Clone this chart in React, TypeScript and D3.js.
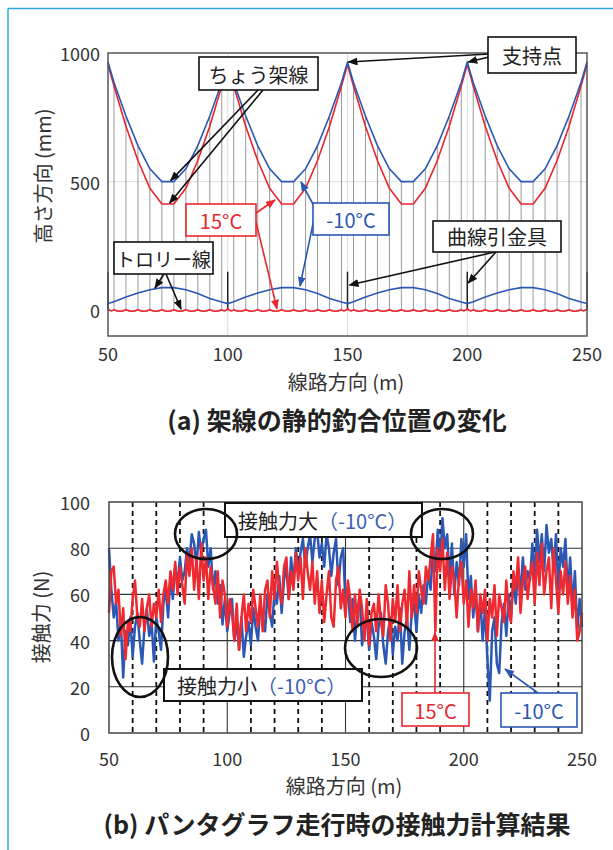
import React from "react";
import * as d3 from "d3";

const FONT = "'Noto Sans CJK JP', 'Noto Sans', sans-serif";
const RED = "#e8262d";
const BLUE = "#2a58b4";
const TXT = "#333";

// ---------- (a) static equilibrium of the catenary ----------
const TOP_X_TICKS = [50, 100, 150, 200, 250];
const TOP_Y_TICKS = [0, 500, 1000];
const TOP_GRID_X = [100, 150, 200];
const TOP_GRID_Y = [0, 500];
const SUPPORT_X = [50, 100, 150, 200, 250];
const STEADY_ARM_TOP = 150;

const WIRE_X = [
  50, 52.5, 57.5, 62.5, 67.5, 72.5, 77.5, 82.5, 87.5, 92.5, 97.5,
  100, 102.5, 107.5, 112.5, 117.5, 122.5, 127.5, 132.5, 137.5, 142.5, 147.5,
  150, 152.5, 157.5, 162.5, 167.5, 172.5, 177.5, 182.5, 187.5, 192.5, 197.5,
  200, 202.5, 207.5, 212.5, 217.5, 222.5, 227.5, 232.5, 237.5, 242.5, 247.5,
  250,
];
// messenger wire (ちょう架線) height, mm
const MESSENGER_M10 = [
  965, 885, 755, 640, 550, 500, 500, 550, 640, 755, 885,
  965, 885, 755, 640, 550, 500, 500, 550, 640, 755, 885,
  965, 885, 755, 640, 550, 500, 500, 550, 640, 755, 885,
  965, 885, 755, 640, 550, 500, 500, 550, 640, 755, 885,
  965,
];
const MESSENGER_15 = [
  955, 872, 715, 582, 474, 413, 413, 474, 582, 715, 872,
  955, 872, 715, 582, 474, 413, 413, 474, 582, 715, 872,
  955, 872, 715, 582, 474, 413, 413, 474, 582, 715, 872,
  955, 872, 715, 582, 474, 413, 413, 474, 582, 715, 872,
  955,
];
// contact wire (トロリー線) height, mm
const TROLLEY_M10 = [
  26, 33, 52, 67, 80, 88, 88, 80, 65, 46, 32,
  26, 33, 52, 67, 80, 88, 88, 80, 65, 46, 32,
  26, 33, 52, 67, 80, 88, 88, 80, 65, 46, 32,
  26, 33, 52, 67, 80, 88, 88, 80, 65, 46, 32,
  26,
];
const TROLLEY_15 = [
  6, 2, 2, 2, 2, 2, 2, 2, 2, 2, 2,
  6, 2, 2, 2, 2, 2, 2, 2, 2, 2, 2,
  6, 2, 2, 2, 2, 2, 2, 2, 2, 2, 2,
  6, 2, 2, 2, 2, 2, 2, 2, 2, 2, 2,
  6,
];

// ---------- (b) contact force ----------
const BOT_X_TICKS = [50, 100, 150, 200, 250];
const BOT_Y_TICKS = [0, 20, 40, 60, 80, 100];
const BOT_GRID_X = [100, 150, 200];
const BOT_GRID_Y = [20, 40, 60, 80];
const DASHED_X = [60, 70, 80, 90, 110, 120, 130, 140, 160, 170, 180, 190, 210, 220, 230, 240];
const FORCE_START = 50; // m, one sample per metre
const FORCE_M10 = [
  80, 62, 50, 57, 40, 48, 24, 44, 38, 50,
  33, 46, 52, 40, 30, 46, 54, 42, 48, 31,
  50, 44, 36, 56, 62, 50, 68, 58, 72, 64,
  76, 66, 70, 80, 74, 86, 82, 72, 87, 78,
  84, 88, 72, 80, 62, 70, 56, 64, 47, 58,
  44, 52, 58, 40, 48, 36, 50, 33, 42, 48,
  38, 54, 46, 40, 56, 50, 44, 60, 52, 46,
  62, 56, 68, 52, 66, 72, 58, 76, 64, 80,
  70, 78, 84, 72, 80, 86, 74, 84, 88, 76,
  82, 72, 86, 80, 68, 78, 84, 64, 76, 80,
  56, 62, 48, 58, 40, 52, 60, 38, 46, 50,
  36, 48, 42, 32, 46, 52, 38, 30, 44, 50,
  34, 46, 40, 54, 30, 44, 50, 36, 52, 56,
  44, 60, 52, 64, 56, 70, 62, 80, 70, 88,
  74, 93, 80, 86, 66, 82, 60, 74, 64, 84,
  72, 86, 58, 68, 50, 62, 44, 58, 40, 54,
  32, 14, 44, 50, 30, 26, 48, 56, 42, 60,
  50, 66, 56, 72, 60, 76, 62, 70, 66, 82,
  68, 88, 74, 86, 70, 90, 78, 84, 70, 86,
  62, 80, 72, 84, 60, 76, 54, 70, 44, 58,
  46,
];
const FORCE_15 = [
  52, 70, 72, 56, 62, 42, 54, 32, 48, 44,
  58, 66, 50, 46, 58, 44, 54, 60, 46, 56,
  50, 62, 48, 60, 66, 56, 70, 62, 74, 60,
  72, 64, 56, 78, 68, 80, 62, 76, 58, 82,
  66, 76, 58, 72, 64, 56, 70, 50, 66, 60,
  46, 58, 52, 40, 56, 36, 50, 60, 44, 56,
  48, 62, 54, 46, 60, 44, 62, 66, 50, 70,
  58, 74, 62, 56, 72, 76, 58, 70, 62, 78,
  66, 76, 58, 80, 70, 62, 74, 56, 70, 52,
  66, 48, 60, 70, 50, 46, 66, 72, 54, 62,
  50, 66, 58, 44, 60, 46, 62, 54, 40, 58,
  38, 52, 56, 44, 60, 48, 42, 64, 56, 40,
  58, 48, 64, 44, 56, 62, 46, 70, 50, 64,
  52, 70, 62, 56, 72, 66, 76, 86, 44, 80,
  70, 84, 62, 78, 58, 72, 66, 50, 68, 74,
  56, 66, 46, 62, 54, 66, 44, 60, 52, 62,
  40, 58, 50, 64, 42, 60, 54, 48, 66, 52,
  48, 70, 62, 76, 52, 66, 72, 58, 68, 74,
  56, 78, 64, 82, 60, 70, 76, 54, 80, 66,
  52, 70, 60, 74, 56, 68, 50, 62, 40, 44,
  52,
];

function Arrow({ x1, y1, x2, y2, color }: { x1: number; y1: number; x2: number; y2: number; color: string }) {
  const id = color === RED ? "ahR" : color === BLUE ? "ahB" : "ahK";
  return <line x1={x1} y1={y1} x2={x2} y2={y2} stroke={color} strokeWidth={1.6} markerEnd={`url(#${id})`} />;
}

function Box({ x, y, w, h, stroke, sw = 1.6 }: { x: number; y: number; w: number; h: number; stroke: string; sw?: number }) {
  return <rect x={x} y={y} width={w} height={h} fill="#fff" stroke={stroke} strokeWidth={sw} />;
}

export default function App() {
  const xT = d3.scaleLinear().domain([50, 250]).range([108, 587]);
  const yT = d3.scaleLinear().domain([-100, 1000]).range([336, 53]);
  const xB = d3.scaleLinear().domain([50, 250]).range([109, 582]);
  const yB = d3.scaleLinear().domain([0, 100]).range([733, 502]);

  const wireLine = d3
    .line<number>()
    .x((_, i) => xT(WIRE_X[i]))
    .y((d) => yT(d));

  const redTrolley = TROLLEY_15.map((v, i) => {
    const px = xT(WIRE_X[i]);
    const py = yT(v);
    if (i === 0) return `M${px},${py}`;
    const qx = xT(WIRE_X[i - 1]);
    const qy = yT(TROLLEY_15[i - 1]);
    return `Q${(px + qx) / 2},${(py + qy) / 2 + 3} ${px},${py}`;
  }).join("");

  const forceLine = d3
    .line<number>()
    .x((_, i) => xB(FORCE_START + i))
    .y((d) => yB(d))
    .curve(d3.curveLinear);

  const T = (props: any) => <text fontFamily={FONT} fill={TXT} {...props} />;

  return (
    <svg width={613} height={850} style={{ position: "absolute", left: 0, top: 0 }}>
      <defs>
        {[
          ["ahR", RED],
          ["ahB", BLUE],
          ["ahK", "#111"],
        ].map(([id, c]) => (
          <marker key={id} id={id} viewBox="0 0 10 8" refX={9} refY={4} markerWidth={10} markerHeight={8} markerUnits="userSpaceOnUse" orient="auto">
            <path d="M0,0 L10,4 L0,8 z" fill={c} />
          </marker>
        ))}
      </defs>
      <rect x={0} y={0} width={613} height={850} fill="#fff" />
      {/* page frame */}
      <line x1={8} y1={8.5} x2={613} y2={8.5} stroke="#2ea6e6" strokeWidth={1.5} />
      <line x1={8} y1={8.5} x2={8} y2={850} stroke="#2ea6e6" strokeWidth={1.5} />

      {/* ================= (a) ================= */}
      {TOP_GRID_Y.map((v) => (
        <line key={"gy" + v} x1={xT(50)} x2={xT(250)} y1={yT(v)} y2={yT(v)} stroke="#dcdcdc" strokeWidth={1} />
      ))}
      {TOP_GRID_X.map((v) => (
        <line key={"gx" + v} x1={xT(v)} x2={xT(v)} y1={yT(-100)} y2={yT(1000)} stroke="#dcdcdc" strokeWidth={1} />
      ))}
      {/* droppers */}
      {WIRE_X.map((x, i) =>
        SUPPORT_X.includes(x) ? null : (
          <line key={"dr" + i} x1={xT(x)} x2={xT(x)} y1={yT(Math.max(MESSENGER_M10[i], MESSENGER_15[i]))} y2={yT(TROLLEY_15[i])} stroke="#9a9a9a" strokeWidth={1} />
        )
      )}
      {/* steady arms */}
      {SUPPORT_X.map((x) => (
        <line key={"sa" + x} x1={xT(x)} x2={xT(x)} y1={yT(STEADY_ARM_TOP)} y2={yT(0)} stroke="#222" strokeWidth={1.5} />
      ))}
      <path d={wireLine(MESSENGER_15) || ""} fill="none" stroke={RED} strokeWidth={1.6} strokeLinejoin="round" />
      <path d={wireLine(MESSENGER_M10) || ""} fill="none" stroke={BLUE} strokeWidth={1.6} strokeLinejoin="round" />
      <path d={redTrolley} fill="none" stroke={RED} strokeWidth={1.6} />
      <path d={wireLine(TROLLEY_M10) || ""} fill="none" stroke={BLUE} strokeWidth={1.6} />
      <rect x={xT(50)} y={yT(1000)} width={xT(250) - xT(50)} height={yT(-100) - yT(1000)} fill="none" stroke="#555" strokeWidth={1.5} />

      {TOP_Y_TICKS.map((v) => (
        <T key={"ty" + v} x={100} y={yT(v)} fontSize={18} textAnchor="end" dominantBaseline="central">
          {v}
        </T>
      ))}
      {TOP_X_TICKS.map((v) => (
        <T key={"tx" + v} x={xT(v)} y={353} fontSize={18} textAnchor="middle" dominantBaseline="central">
          {v}
        </T>
      ))}
      <T x={0} y={0} fontSize={20} textAnchor="middle" dominantBaseline="central" transform="translate(42,176) rotate(-90)">
        高さ方向 (mm)
      </T>
      <T x={346} y={381} fontSize={20} textAnchor="middle" dominantBaseline="central">
        線路方向 (m)
      </T>

      {/* annotations (a) */}
      <Arrow x1={258} y1={90} x2={xT(77) - 2} y2={yT(MESSENGER_M10[17]) - 1} color="#111" />
      <Arrow x1={263} y1={90} x2={xT(77) - 3} y2={yT(MESSENGER_15[17]) - 1} color="#111" />
      <Box x={199} y={57} w={119} h={33} stroke="#111" />
      <T x={258.5} y={74} fontSize={20} textAnchor="middle" dominantBaseline="central" fill="#222">
        ちょう架線
      </T>

      <Arrow x1={489} y1={54} x2={xT(150) + 1} y2={yT(965)} color="#111" />
      <Arrow x1={489} y1={57} x2={xT(200) + 1} y2={yT(965)} color="#111" />
      <Box x={488} y={37} w={88} h={36} stroke="#111" />
      <T x={532} y={55.5} fontSize={20} textAnchor="middle" dominantBaseline="central" fill="#222">
        支持点
      </T>

      <Arrow x1={256} y1={213} x2={275} y2={200} color={RED} />
      <Arrow x1={256} y1={222} x2={277} y2={yT(2) - 1} color={RED} />
      <Box x={186} y={204} w={70} h={32} stroke={RED} />
      <T x={221} y={220} fontSize={20} textAnchor="middle" dominantBaseline="central" fill={RED}>
        15°C
      </T>

      <Arrow x1={314} y1={206} x2={301} y2={182} color={BLUE} />
      <Arrow x1={314} y1={219} x2={300} y2={286} color={BLUE} />
      <Box x={313} y={203} w={76} h={32} stroke={BLUE} />
      <T x={351} y={219} fontSize={20} textAnchor="middle" dominantBaseline="central" fill={BLUE}>
        -10°C
      </T>

      <Arrow x1={164} y1={274} x2={155} y2={288} color="#111" />
      <Arrow x1={166} y1={274} x2={181} y2={309} color="#111" />
      <Box x={114} y={242} w={99} h={32} stroke="#111" />
      <T x={163.5} y={258} fontSize={19} textAnchor="middle" dominantBaseline="central" fill="#222">
        トロリー線
      </T>

      <Arrow x1={495} y1={252} x2={xT(150) + 2} y2={285} color="#111" />
      <Arrow x1={496} y1={252} x2={xT(200) + 1} y2={283} color="#111" />
      <Box x={433} y={221} w={128} h={31} stroke="#111" />
      <T x={497} y={236.5} fontSize={20} textAnchor="middle" dominantBaseline="central" fill="#222">
        曲線引金具
      </T>

      <T x={337} y={419} fontSize={25} fontWeight={700} textAnchor="middle" dominantBaseline="central" fill="#222">
        (a) 架線の静的釣合位置の変化
      </T>

      {/* ================= (b) ================= */}
      {BOT_GRID_Y.map((v) => (
        <line key={"by" + v} x1={xB(50)} x2={xB(250)} y1={yB(v)} y2={yB(v)} stroke="#333" strokeWidth={1.1} />
      ))}
      {BOT_GRID_X.map((v) => (
        <line key={"bx" + v} x1={xB(v)} x2={xB(v)} y1={yB(0)} y2={yB(100)} stroke="#333" strokeWidth={1.1} />
      ))}
      {DASHED_X.map((v) => (
        <line key={"dx" + v} x1={xB(v)} x2={xB(v)} y1={yB(100)} y2={yB(0)} stroke="#111" strokeWidth={1.8} strokeDasharray="5,4" />
      ))}
      <path d={forceLine(FORCE_M10) || ""} fill="none" stroke={BLUE} strokeWidth={2.5} strokeLinejoin="round" />
      <path d={forceLine(FORCE_15) || ""} fill="none" stroke="#ee2a30" strokeWidth={2.5} strokeLinejoin="round" />
      <rect x={xB(50)} y={yB(100)} width={xB(250) - xB(50)} height={yB(0) - yB(100)} fill="none" stroke="#444" strokeWidth={1.5} />

      {BOT_Y_TICKS.map((v) => (
        <T key={"bty" + v} x={90} y={yB(v)} fontSize={18} textAnchor="end" dominantBaseline="central">
          {v}
        </T>
      ))}
      {BOT_X_TICKS.map((v) => (
        <T key={"btx" + v} x={xB(v)} y={758} fontSize={18} textAnchor="middle" dominantBaseline="central">
          {v}
        </T>
      ))}
      <T x={0} y={0} fontSize={20} textAnchor="middle" dominantBaseline="central" transform="translate(40,617) rotate(-90)">
        接触力 (N)
      </T>
      <T x={344} y={785} fontSize={20} textAnchor="middle" dominantBaseline="central">
        線路方向 (m)
      </T>

      {/* annotations (b) */}
      <Box x={225} y={503} w={197} h={34} stroke="#111" sw={2} />
      <text x={238} y={520} fontFamily={FONT} fontSize={20} dominantBaseline="central">
        <tspan fill="#222">接触力大</tspan>
        <tspan fill="#3d5fb5">（-10°C）</tspan>
      </text>
      <Box x={164} y={669} w={198} h={32} stroke="#111" sw={2} />
      <text x={177} y={685} fontFamily={FONT} fontSize={20} dominantBaseline="central">
        <tspan fill="#222">接触力小</tspan>
        <tspan fill="#3d5fb5">（-10°C）</tspan>
      </text>
      <ellipse cx={206} cy={534} rx={31} ry={25} fill="none" stroke="#111" strokeWidth={2.6} />
      <ellipse cx={442} cy={534} rx={31} ry={25} fill="none" stroke="#111" strokeWidth={2.6} />
      <ellipse cx={140} cy={657} rx={28} ry={40} fill="none" stroke="#111" strokeWidth={2.6} />
      <ellipse cx={381} cy={648} rx={36} ry={29} fill="none" stroke="#111" strokeWidth={2.6} />

      <Arrow x1={435} y1={693} x2={435} y2={yB(44) + 1} color={RED} />
      <Box x={402} y={693} w={67} h={33} stroke={RED} />
      <T x={435.5} y={710} fontSize={20} textAnchor="middle" dominantBaseline="central" fill={RED}>
        15°C
      </T>
      <Arrow x1={538} y1={693} x2={505} y2={669} color={BLUE} />
      <Box x={501} y={693} w={76} h={34} stroke={BLUE} />
      <T x={539} y={710} fontSize={20} textAnchor="middle" dominantBaseline="central" fill={BLUE}>
        -10°C
      </T>

      <T x={337} y={823} fontSize={25} fontWeight={700} textAnchor="middle" dominantBaseline="central" fill="#222">
        (b) パンタグラフ走行時の接触力計算結果
      </T>
    </svg>
  );
}
